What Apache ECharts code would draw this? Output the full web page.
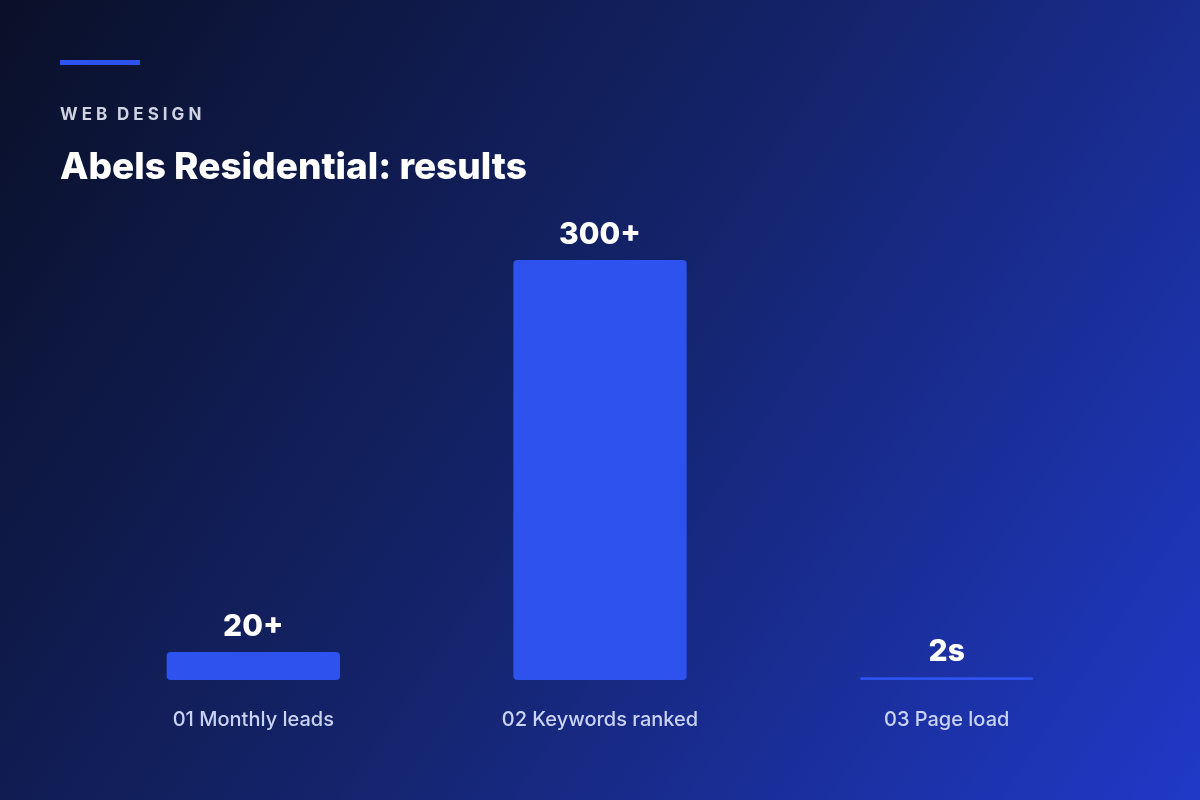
<!DOCTYPE html>
<html>
<head>
<meta charset="utf-8">
<title>Abels Residential: results</title>
<script src="https://cdn.jsdelivr.net/npm/echarts@6/dist/echarts.min.js"></script>
<style>
  html, body { margin: 0; padding: 0; }
  #chart { width: 1200px; height: 800px; }
</style>
</head>
<body>
<div id="chart"></div>
<script>
// data
var categories = ['01 Monthly leads', '02 Keywords ranked', '03 Page load'];
var values = [20, 300, 2];
var valueLabels = ['20+', '300+', '2s'];

var font = 'Inter, "Noto Sans", sans-serif';
var accent = '#2d52ee';

var myChart = echarts.init(document.getElementById('chart'));

// spaced-out kicker text (no letterSpacing in canvas text)
var sp = '\u2009\u200a';
var kicker = 'WEB'.split('').join(sp) + '\u2002\u200a' + 'DESIGN'.split('').join(sp);

var option = {
    backgroundColor: {
        type: 'linear', x: 0, y: 0, x2: 1, y2: 1,
        colorStops: [
            { offset: 0, color: '#0a1028' },
            { offset: 0.5, color: '#14246c' },
            { offset: 1, color: '#2039c8' }
        ]
    },
    textStyle: { fontFamily: font },
    title: [
        {
            text: kicker,
            left: 60, top: 106, padding: 0,
            textStyle: { color: '#cfd3e2', fontSize: 17, fontWeight: 'bold', fontFamily: font }
        },
        {
            text: 'Abels Residential: results',
            left: 60, top: 149, padding: 0,
            textStyle: { color: '#ffffff', fontSize: 37, fontWeight: 800, fontFamily: font }
        }
    ],
    graphic: [
        { type: 'rect', left: 60, top: 60, shape: { width: 80, height: 5 }, style: { fill: accent } }
    ],
    grid: { left: 80, right: 80, top: 260, bottom: 120 },
    xAxis: {
        type: 'category',
        data: categories,
        axisLine: { show: false },
        axisTick: { show: false },
        axisLabel: { color: '#cbd3f2', fontSize: 20, fontWeight: 500, margin: 30, fontFamily: font }
    },
    yAxis: {
        type: 'value',
        min: 0, max: 300,
        show: false,
        splitLine: { show: false }
    },
    series: [
        {
            type: 'bar',
            data: values,
            barWidth: '50%',
            itemStyle: { color: accent, borderRadius: 4 },
            label: {
                show: true,
                position: 'top',
                distance: 10,
                color: '#ffffff',
                fontSize: 30,
                fontWeight: 800,
                fontFamily: font,
                formatter: function (p) { return valueLabels[p.dataIndex]; }
            },
            silent: true
        }
    ]
};

myChart.setOption(option);
</script>
</body>
</html>
